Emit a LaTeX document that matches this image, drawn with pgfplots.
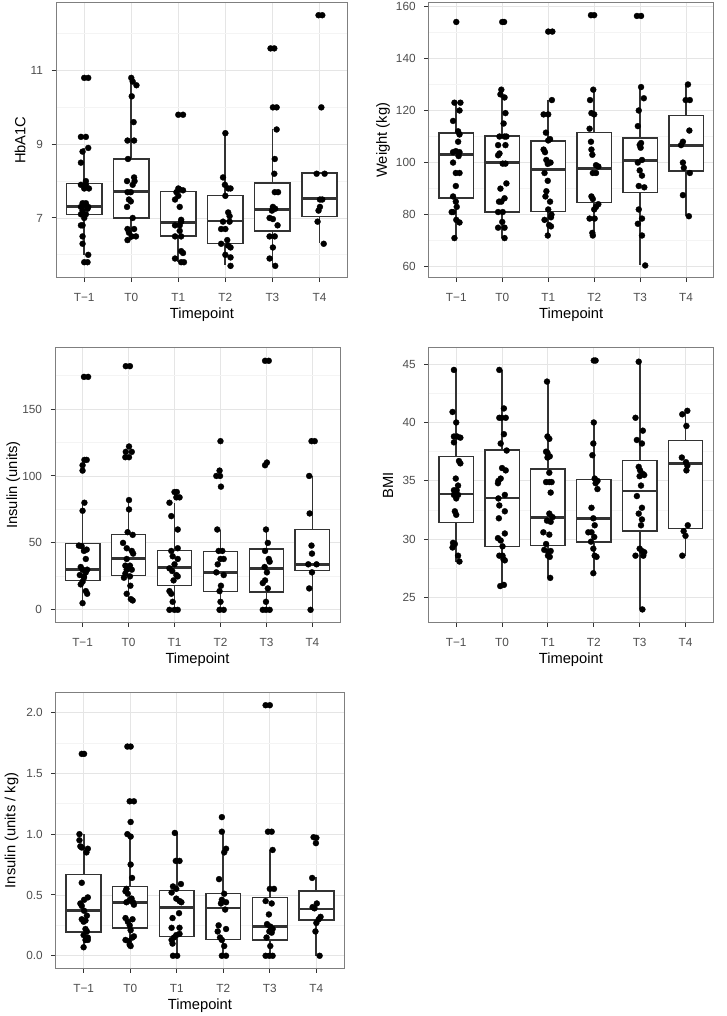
\documentclass[border=0pt]{standalone}
\usepackage{pgfplots}
\pgfplotsset{compat=1.18}
\usepgfplotslibrary{statistics}
\usepackage{fontspec}
\setmainfont{Liberation Sans}
\definecolor{gg20}{HTML}{333333}
\definecolor{gg30}{HTML}{4D4D4D}
\definecolor{gg50}{HTML}{7F7F7F}
\definecolor{gg90}{HTML}{E5E5E5}
\definecolor{gg98}{HTML}{F4F4F4}
\newcommand{\ticksize}{\fontsize{11.8}{13}\selectfont}
\newcommand{\labsize}{\fontsize{14.7}{17}\selectfont}
\newcommand{\bx}[6]{\addplot[boxplot prepared={draw position=#1, lower whisker=#2, lower quartile=#3, median=#4, upper quartile=#5, upper whisker=#6, box extend=0.75, whisker extend=0}, draw=gg20, line width=1.4pt, fill=white, solid, mark=none] coordinates {};}
\pgfplotsset{
 ggbw/.style={
  scale only axis, xmin=0.4, xmax=6.6,
  xtick={1,2,3,4,5,6}, xticklabels={T−1,T0,T1,T2,T3,T4},
  tick align=outside, tick pos=left, major tick length=4.5pt, minor tick length=0pt,
  axis line style={draw=gg50, line width=0.9pt},
  every tick/.style={draw=gg20, line width=1pt},
  xmajorgrids, ymajorgrids, yminorgrids,
  major grid style={draw=gg90, line width=0.9pt},
  minor grid style={draw=gg98, line width=0.7pt},
  tick label style={font=\ticksize, text=gg30},
  xticklabel style={yshift=-8pt},
  yticklabel style={xshift=-5pt},
  label style={font=\labsize, text=black},
  xlabel={Timepoint},
  xlabel style={at={([yshift=-37pt]axis description cs:0.5,0)}, anchor=center},
  /pgf/number format/assume math mode=true,
  boxplot/draw direction=y,
  boxplot/every box/.style={draw=gg20, line width=1.4pt, fill=white},
  boxplot/every whisker/.style={draw=gg20, line width=1.8pt},
  boxplot/every median/.style={draw=gg20, line width=2.8pt},
  anchor=south west,
 },
 pts/.style={only marks, mark=*, mark size=3pt, black, mark options={draw=black, fill=black, line width=0.3pt}},
}
\begin{document}
\begin{tikzpicture}
\path[use as bounding box] (0,0) rectangle (726pt,1016pt);
% Panel 1: HbA1C
\begin{axis}[ggbw, at={(56pt,738.3pt)}, width=291.7pt, height=275pt,
  ymin=5.38, ymax=12.84, ytick={7,9,11}, minor ytick={6,8,10,12},
  ylabel={HbA1C}, ylabel style={at={([xshift=-36pt]axis description cs:0,0.5)}, anchor=center}]
\bx{1}{6.0}{7.1}{7.32}{7.93}{8.9}
\bx{2}{6.4}{7.0}{7.71}{8.6}{10.8}
\bx{3}{5.8}{6.51}{6.87}{7.71}{7.8}
\bx{4}{5.72}{6.31}{6.92}{7.61}{9.3}
\bx{5}{5.72}{6.65}{7.23}{7.95}{9.41}
\bx{6}{6.31}{7.04}{7.52}{8.22}{8.22}
\addplot[pts] coordinates {
(1.00,10.8)(1.085,10.8)(0.93,9.2)(1.035,9.2)(1.085,8.9)(0.965,8.8)(0.93,8.5)(1.035,8.0)(0.93,7.9)(1.035,7.9)(1.1,7.8)(1.0,7.8)(0.965,7.4)(1.035,7.4)(0.985,7.35)(0.93,7.3)(1.085,7.3)(0.965,7.2)(1.07,7.25)(1.035,7.1)(0.93,7.1)(1.0,7.0)(0.965,6.8)(0.93,6.8)(0.965,6.5)(0.965,6.3)(1.085,6.0)(1.0,5.8)(1.07,5.8)
(2.0,10.8)(2.03,10.7)(2.11,10.6)(2.01,10.3)(2.05,9.6)(1.92,9.1)(2.06,9.1)(1.93,8.6)(1.91,8.0)(2.06,8.1)(2.03,7.9)(2.07,8.0)(1.92,7.7)(1.99,7.7)(1.95,7.5)(1.99,7.45)(1.91,7.3)(2.03,7.0)(1.92,6.7)(2.06,6.7)(1.95,6.6)(2.1,6.5)(2.01,6.5)(1.92,6.4)
(3.0,9.8)(3.1,9.8)(3.0,7.8)(3.03,7.77)(3.1,7.75)(2.96,7.7)(3.0,7.6)(2.93,7.5)(3.03,7.3)(3.06,6.95)(2.93,6.8)(3.03,6.8)(3.06,6.9)(3.03,6.65)(2.93,6.5)(3.06,6.5)(3.06,6.1)(3.1,6.05)(2.93,5.9)(3.06,5.8)(3.12,5.8)
(4.0,9.3)(3.95,8.1)(3.99,7.9)(4.06,7.8)(4.11,7.8)(4.0,7.6)(4.06,7.15)(4.09,7.05)(3.95,6.9)(4.09,6.9)(4.0,6.7)(3.91,6.7)(4.04,6.4)(3.91,6.3)(4.06,6.25)(4.11,6.2)(4.0,6.0)(4.11,5.93)(4.11,5.7)
(4.96,11.6)(5.04,11.6)(5.01,10.0)(5.09,10.0)(5.09,9.4)(5.05,8.6)(5.04,8.2)(5.05,7.7)(5.12,7.7)(5.01,7.3)(5.06,7.25)(4.99,7.2)(4.94,7.0)(5.01,6.97)(5.11,6.8)(4.94,6.5)(5.05,6.5)(5.01,6.2)(4.94,5.9)(5.06,5.7)
(5.98,12.5)(6.06,12.5)(6.04,10.0)(5.94,8.2)(6.11,8.2)(6.01,7.5)(6.06,7.5)(6.01,7.3)(5.98,7.2)(5.96,6.9)(6.09,6.3)
};
\end{axis}
% Panel 2: Weight
\begin{axis}[ggbw, at={(428.7pt,738.3pt)}, width=285pt, height=275pt,
  ymin=55.8, ymax=161.4, ytick={60,80,100,120,140,160}, minor ytick={70,90,110,130,150},
  ylabel={Weight (kg)}, ylabel style={at={([xshift=-45.7pt]axis description cs:0,0.5)}, anchor=center}]
\bx{1}{71}{86.4}{103.2}{111.3}{123}
\bx{2}{71}{81.1}{100}{110.2}{128}
\bx{3}{72}{81.3}{97.4}{108.3}{124.2}
\bx{4}{71.8}{84.6}{97.7}{111.5}{128}
\bx{5}{60.5}{88.5}{100.7}{109.4}{129}
\bx{6}{79.5}{96.8}{106.6}{118.1}{130}
\addplot[pts] coordinates {
(1.0,154)(0.96,123)(1.09,123)(1.07,120)(0.93,116)(1.04,112)(1.07,110.8)(1.04,108)(0.99,104.4)(1.07,104)(0.93,104)(1.05,102.5)(0.93,100)(0.99,96)(1.07,96)(0.99,91)(0.93,87)(0.99,85)(1.01,83)(0.93,81)(0.9,81)(1.0,78)(1.07,77)(0.96,71)
(2.0,154)(2.04,154)(1.98,128)(1.96,126.2)(2.05,125)(2.07,119)(2.03,115)(1.94,110)(2.05,110)(2.09,110)(2.07,106.7)(1.91,106.7)(1.94,103.5)(1.91,102.8)(2.01,99.6)(2.07,99.6)(2.09,92)(1.96,90)(2.05,86.3)(1.98,85)(1.93,85)(1.91,81)(2.01,81)(2.0,77.2)(1.91,75)(2.05,75)(2.05,71)
(3.0,150.3)(3.09,150.3)(3.08,124)(2.9,118.5)(3.0,118.5)(2.95,111.5)(3.04,109)(3.0,108.5)(2.9,105)(2.93,104)(2.96,101)(3.05,100)(2.99,99.5)(2.92,96)(2.99,93)(2.96,89)(2.94,87)(3.04,85)(3.0,82)(3.07,80)(3.06,79)(2.92,78)(3.02,76)(3.06,75.5)(2.99,72)
(3.93,156.6)(4.0,156.6)(3.98,128)(3.91,124)(3.94,119)(4.0,118.5)(3.9,113)(3.93,108)(3.94,105)(3.96,103)(4.04,99)(4.09,98.5)(3.97,96)(4.04,96)(3.94,87)(3.97,86)(4.09,84)(4.04,83)(4.0,82)(3.9,78.5)(4.01,78.5)(3.96,73)(3.97,72)
(4.93,156.3)(5.02,156.3)(5.02,129)(5.08,124.7)(4.97,120)(4.95,114)(5.02,107.5)(4.99,106.8)(5.01,105.7)(5.04,101)(4.95,100)(4.99,97)(5.04,95)(4.97,91)(5.09,90.5)(4.97,82)(5.04,78.5)(4.95,76.5)(5.04,72)(5.11,60.5)
(6.04,130)(5.99,124)(6.08,124)(6.07,112.3)(5.93,108)(5.89,106.7)(5.93,100)(5.95,98)(6.08,96)(5.93,87.5)(6.06,79.4)
};
\end{axis}
% Panel 3: Insulin (units)
\begin{axis}[ggbw, at={(55pt,393.7pt)}, width=285pt, height=274.6pt,
  ymin=-9.3, ymax=195.8, ytick={0,50,100,150}, minor ytick={25,75,125,175},
  ylabel={Insulin (units)}, ylabel style={at={([xshift=-41.7pt]axis description cs:0,0.5)}, anchor=center}]
\bx{1}{5}{21.7}{30.1}{49.4}{80}
\bx{2}{7}{25.7}{38.1}{56.3}{82}
\bx{3}{0}{18}{31.9}{44.5}{80}
\bx{4}{0}{13.6}{27.9}{43.7}{60}
\bx{5}{0}{13.3}{30.9}{45.5}{60}
\bx{6}{0}{29.2}{33.9}{59.8}{100}
\addplot[pts] coordinates {
(1.03,174)(1.12,174)(1.04,112)(1.09,112)(1.0,108)(1.0,104)(1.04,80)(1.0,74)(0.92,48)(0.98,47.5)(1.09,45)(1.03,44)(1.07,38)(0.96,32)(1.0,30)(1.1,30)(1.07,28)(0.94,26)(1.03,25)(1.03,24)(1.0,21)(0.96,19)(1.07,14)(1.1,12)(1.0,5)
(1.94,182)(2.03,182)(2.01,122)(1.94,118)(2.07,118)(1.93,114)(2.01,114)(2.01,82)(2.01,75)(1.98,58)(2.09,56)(1.88,50)(1.96,46)(2.07,44)(2.1,42)(1.96,38)(1.93,33)(2.03,33)(1.96,30)(2.07,30)(1.93,27)(2.03,25)(1.9,24)(2.04,18)(1.96,12)(2.05,8)(2.09,7)
(3.0,88)(3.05,88)(3.04,84)(3.11,84)(2.89,80)(2.93,70)(3.07,60)(3.07,46)(2.93,44)(2.96,40)(3.07,38)(3.0,34)(2.89,31)(2.95,29)(3.04,26)(3.07,25)(2.98,22)(2.89,14)(2.93,12)(2.96,6)(2.89,0)(3.0,0)(3.07,0)
(4.0,126)(3.98,104)(3.91,100)(3.99,100)(4.01,92)(3.93,60)(3.96,44)(4.04,44)(4.0,38)(4.07,38)(3.94,34)(3.91,28)(4.07,26)(4.01,18)(3.98,14)(4.0,6)(3.98,0)(4.07,0)
(4.97,186)(5.05,186)(5.01,110)(4.97,108)(4.99,60)(5.03,50)(4.97,44)(5.05,38)(5.07,36)(4.96,32)(5.01,28)(4.97,22)(4.92,20)(5.03,16)(4.99,6)(4.92,0)(4.99,0)(5.07,0)
(5.98,126)(6.05,126)(5.93,100)(5.94,72)(5.98,48)(5.99,42)(5.91,34)(6.09,34)(5.99,28)(5.93,16)(5.96,0)
};
\end{axis}
% Panel 4: BMI
\begin{axis}[ggbw, at={(428.7pt,393.7pt)}, width=284.3pt, height=274.6pt,
  ymin=22.9, ymax=46.4, ytick={25,30,35,40,45}, minor ytick={27.5,32.5,37.5,42.5},
  ylabel={BMI}, ylabel style={at={([xshift=-40.7pt]axis description cs:0,0.5)}, anchor=center}]
\bx{1}{28.1}{31.45}{33.88}{37.08}{44.52}
\bx{2}{26.0}{29.38}{33.54}{37.65}{44.5}
\bx{3}{26.7}{29.47}{31.85}{36.03}{43.53}
\bx{4}{27.12}{29.78}{31.79}{35.1}{40.0}
\bx{5}{24.01}{30.71}{34.14}{36.74}{45.23}
\bx{6}{28.59}{30.91}{36.46}{38.44}{40.98}
\addplot[pts] coordinates {
(0.95,44.5)(0.92,40.9)(1.0,40.0)(0.95,38.8)(1.02,38.8)(1.09,38.7)(0.95,38.3)(1.06,36.7)(1.09,36.5)(0.99,35.2)(1.04,34.6)(0.95,34.2)(1.01,34.2)(0.95,33.8)(1.04,33.8)(1.0,33.5)(0.97,32.4)(1.0,32.1)(0.93,29.7)(0.97,29.6)(0.92,29.3)(1.04,28.6)(1.07,28.1)
(1.94,44.5)(2.04,41.2)(1.94,40.4)(1.99,40.4)(2.08,40.4)(2.04,39.0)(1.97,38.2)(2.1,37.6)(2.0,36.1)(2.08,35.9)(1.97,35.2)(1.92,35.0)(1.91,34.8)(2.06,33.8)(1.92,33.5)(1.94,32.9)(2.06,32.4)(1.93,31.8)(2.06,30.5)(1.91,30.1)(1.97,29.9)(2.01,29.4)(1.94,28.6)(2.01,28.6)(2.06,28.2)(2.03,28.3)(1.96,26.0)(2.04,26.1)
(2.98,43.5)(2.99,38.8)(3.03,38.6)(2.96,37.5)(2.99,37.4)(3.04,37.1)(2.99,37.0)(3.03,35.7)(2.96,34.9)(3.03,34.9)(3.08,34.9)(3.06,34.0)(3.03,32.2)(3.1,31.9)(2.98,31.6)(3.06,31.5)(2.9,30.6)(3.03,30.4)(2.96,29.6)(2.92,29.1)(3.06,29.0)(3.01,28.9)(3.0,28.6)(3.04,28.5)(3.05,26.7)
(4.0,45.3)(4.04,45.3)(4.0,40.0)(3.99,38.2)(3.97,37.2)(4.02,35.2)(4.08,35.0)(4.04,34.8)(4.08,34.3)(3.95,32.7)(3.99,31.8)(4.02,31.2)(3.88,30.6)(3.95,30.6)(4.01,30.2)(3.94,29.8)(3.99,29.2)(4.02,28.6)(4.06,28.5)(3.99,27.1)
(4.98,45.2)(4.91,40.4)(5.07,39.3)(4.94,38.5)(5.05,38.2)(4.98,36.2)(5.01,35.9)(5.07,35.6)(5.1,35.5)(5.0,35.4)(5.03,34.6)(4.94,33.7)(5.05,32.7)(4.98,32.2)(5.05,31.7)(5.03,31.2)(5.0,29.2)(5.05,29.0)(5.1,28.9)(4.91,28.6)(5.08,28.6)(5.06,24.0)
(6.04,41.0)(5.93,40.7)(6.02,39.7)(5.92,37.0)(6.01,36.6)(6.04,36.3)(6.02,35.9)(6.05,31.2)(5.96,30.7)(6.0,30.3)(5.93,28.6)
};
\end{axis}
% Panel 5: Insulin (units / kg)
\begin{axis}[ggbw, at={(55.7pt,47.7pt)}, width=288.6pt, height=275.6pt,
  ymin=-0.103, ymax=2.163, ytick={0,0.5,1,1.5,2}, minor ytick={0.25,0.75,1.25,1.75},
  yticklabel style={/pgf/number format/.cd, fixed, fixed zerofill, precision=1},
  ylabel={Insulin (units / kg)}, ylabel style={at={([xshift=-44pt]axis description cs:0,0.5)}, anchor=center}]
\bx{1}{0.068}{0.195}{0.373}{0.666}{1.0}
\bx{2}{0.077}{0.227}{0.438}{0.57}{0.98}
\bx{3}{0}{0.159}{0.397}{0.537}{1.008}
\bx{4}{0}{0.132}{0.392}{0.51}{1.016}
\bx{5}{0}{0.129}{0.241}{0.479}{0.868}
\bx{6}{0}{0.293}{0.384}{0.534}{0.644}
\addplot[pts] coordinates {
(0.96,1.66)(1.01,1.66)(0.91,1.0)(0.91,0.95)(0.93,0.9)(0.96,0.89)(1.09,0.88)(1.06,0.85)(0.96,0.6)(1.09,0.48)(1.01,0.46)(0.93,0.43)(0.96,0.41)(1.01,0.37)(1.07,0.33)(0.96,0.3)(1.04,0.29)(1.0,0.28)(1.04,0.22)(1.07,0.2)(1.0,0.17)(1.09,0.15)(1.04,0.13)(1.09,0.13)(1.0,0.07)
(1.94,1.72)(2.01,1.72)(1.99,1.27)(2.08,1.27)(2.01,1.1)(1.94,1.0)(2.01,0.98)(2.01,0.75)(2.04,0.64)(1.92,0.55)(1.9,0.53)(1.95,0.51)(2.03,0.47)(1.99,0.46)(2.06,0.44)(1.92,0.44)(2.08,0.42)(1.9,0.31)(2.05,0.3)(1.95,0.28)(1.99,0.25)(2.01,0.21)(2.08,0.16)(2.05,0.15)(1.9,0.13)(1.97,0.12)(1.99,0.09)(2.01,0.08)
(2.96,1.01)(2.98,0.78)(3.06,0.78)(3.09,0.59)(2.92,0.57)(2.99,0.55)(2.89,0.52)(2.99,0.47)(3.06,0.45)(3.1,0.44)(3.05,0.35)(2.91,0.31)(2.89,0.23)(3.06,0.23)(3.06,0.18)(2.99,0.17)(2.94,0.15)(2.89,0.13)(2.91,0.1)(2.92,0)(3.01,0)
(3.97,1.14)(3.97,1.02)(4.06,0.88)(4.02,0.85)(3.91,0.63)(4.02,0.51)(3.97,0.46)(4.06,0.44)(3.95,0.43)(4.04,0.38)(3.9,0.25)(4.06,0.22)(3.88,0.2)(3.93,0.15)(3.97,0.13)(4.02,0.08)(3.97,0)(4.06,0)
(4.91,2.06)(5.0,2.06)(4.96,1.02)(5.04,1.02)(5.06,0.87)(5.0,0.55)(5.09,0.55)(4.91,0.45)(5.04,0.43)(4.98,0.34)(4.94,0.26)(5.01,0.24)(5.06,0.22)(4.99,0.2)(5.04,0.19)(4.93,0.15)(5.01,0.08)(4.91,0)(4.99,0)(5.06,0)
(5.94,0.975)(6.0,0.97)(5.99,0.926)(5.91,0.64)(6.01,0.43)(5.92,0.4)(5.96,0.39)(6.09,0.32)(6.05,0.3)(6.0,0.27)(5.98,0.2)(6.07,0)
};
\end{axis}
\end{tikzpicture}
\end{document}
